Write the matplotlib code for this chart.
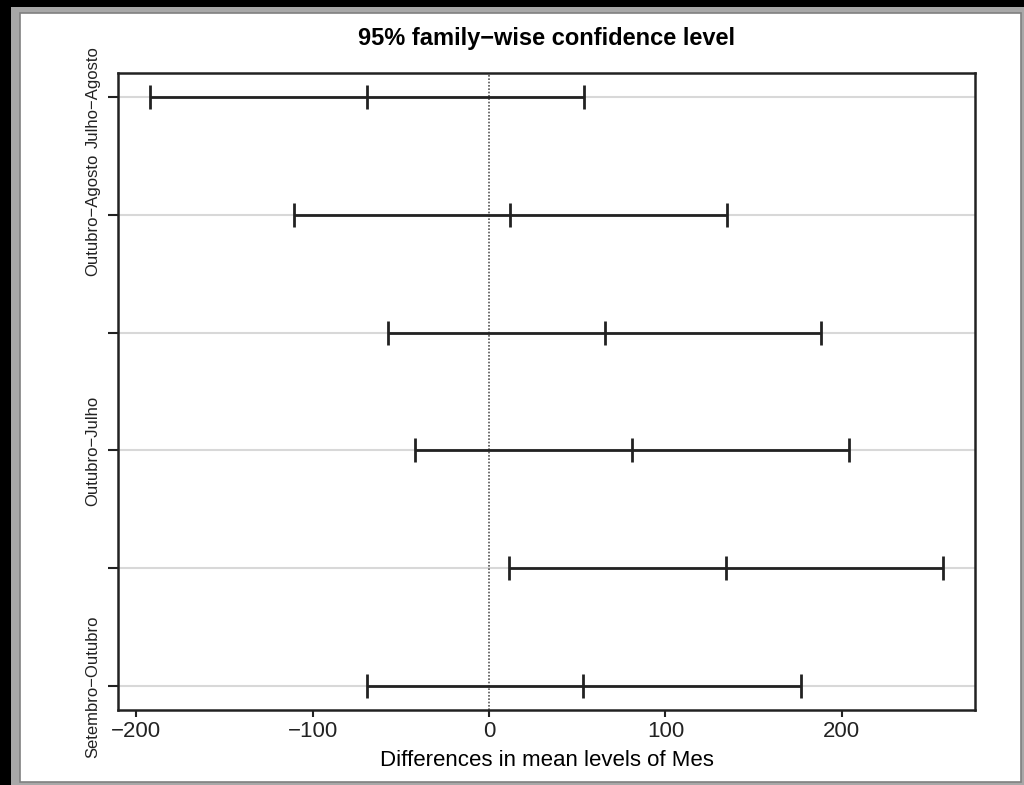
import numpy as np
import matplotlib.pyplot as plt
from matplotlib.patches import Rectangle

plt.rcParams['font.family'] = ['Liberation Sans', 'DejaVu Sans']

# Tukey HSD comparisons (top to bottom as drawn)
comparisons = ['Julho−Agosto', 'Outubro−Agosto', 'Setembro−Agosto',
               'Outubro−Julho', 'Setembro−Julho', 'Setembro−Outubro']
shown = [True, True, False, True, False, True]  # R drops overlapping labels
diff = [-69.4, 12.1, 65.5, 81.2, 134.3, 53.5]
lwr = [-192.3, -110.8, -57.4, -42.1, 11.4, -69.4]
upr = [53.8, 135.0, 188.4, 204.1, 257.5, 176.7]
xticks = [-200, -100, 0, 100, 200]

W, H = 1024, 785
fig = plt.figure(figsize=(W / 100, H / 100), dpi=100, facecolor='black')

# window frame around the plot
fig.patches.append(Rectangle((11 / W, 0), 1 - 11 / W, 1 - 7 / H,
                             transform=fig.transFigure, facecolor='#a8a8a8',
                             edgecolor='none', zorder=-3))
fig.patches.append(Rectangle((20 / W, 3 / H), 1001 / W, (H - 16) / H,
                             transform=fig.transFigure, facecolor='white',
                             edgecolor='#808080', lw=1.2, zorder=-2))

ax = fig.add_axes([118 / W, 1 - 710 / H, (975 - 118) / W, (710 - 73) / H])
ax.set_facecolor('white')

n = len(comparisons)
y = np.arange(n, 0, -1)

for yi in y:
    ax.axhline(yi, color='#d8d8d8', lw=1.5, zorder=1)
ax.axvline(0, color='#555555', lw=1.2, ls=(0, (1, 1)), zorder=2)

ax.hlines(y, lwr, upr, color='#222222', lw=2, zorder=3)
for vals in (lwr, diff, upr):
    ax.plot(vals, y, ls='none', marker='|', markersize=17, mew=2,
            color='#222222', zorder=4)

span = max(upr) - min(lwr)
ax.set_xlim(min(lwr) - 0.04 * span, max(upr) + 0.04 * span)
ax.set_ylim(1 - 0.04 * (n - 1), n + 0.04 * (n - 1))

ax.set_xticks(xticks)
ax.set_xticklabels([f'{v}'.replace('-', '−') for v in xticks], fontsize=16)
ax.set_yticks(y)
ax.set_yticklabels([c if s else '' for c, s in zip(comparisons, shown)],
                   fontsize=12, rotation=90, va='center')
ax.tick_params(axis='x', length=5, width=1.5, pad=3, colors='#222222')
ax.tick_params(axis='y', length=7.5, width=1.5, pad=5, colors='#222222')
for sp in ax.spines.values():
    sp.set_linewidth(1.8)
    sp.set_color('#222222')

ax.set_xlabel('Differences in mean levels of Mes', fontsize=16, labelpad=6)
ax.set_title('95% family−wise confidence level', fontsize=17,
             fontweight='bold', pad=20)

fig.savefig('out.png', dpi=100, facecolor=fig.get_facecolor())
